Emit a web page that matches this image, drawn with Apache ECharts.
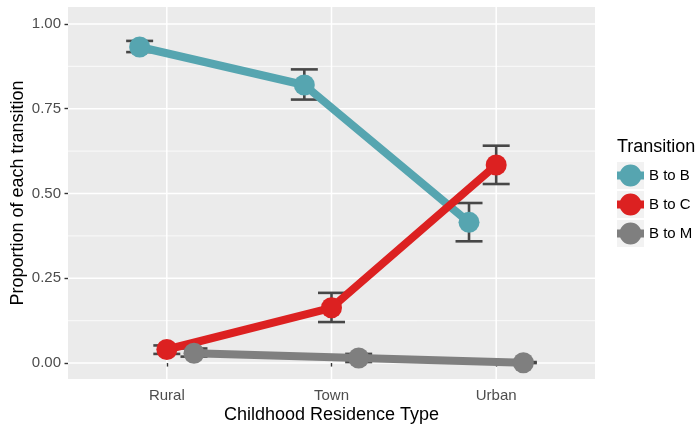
<!DOCTYPE html>
<html>
<head>
<meta charset="utf-8">
<script src="https://cdn.jsdelivr.net/npm/echarts@6/dist/echarts.min.js"></script>
<style>
  html, body { margin: 0; padding: 0; background: #fff; }
  #chart { width: 697px; height: 424px; }
</style>
</head>
<body>
<div id="chart"></div>
<script>
// Residence categories and the three transition groups
const categories = ['Rural', 'Town', 'Urban'];
const transitions = ['B to B', 'B to C', 'B to M'];

// Mean proportion with lower / upper error limits, per residence type
const bToBMean = [0.932, 0.820, 0.415];
const bToBLow  = [0.917, 0.777, 0.359];
const bToBHigh = [0.950, 0.866, 0.472];

const bToCMean = [0.040, 0.163, 0.584];
const bToCLow  = [0.027, 0.121, 0.528];
const bToCHigh = [0.052, 0.207, 0.641];

const bToMMean = [0.029, 0.015, 0.001];
const bToMLow  = [0.019, 0.003, 0.000];
const bToMHigh = [0.043, 0.027, 0.003];

// Tick positions
const yTicks = [0, 0.25, 0.5, 0.75, 1.0];
const yMinorTicks = [0.125, 0.375, 0.625, 0.875];
const xTicks = [1, 2, 3];

const colors = ['#56A5B0', '#DC2121', '#7F7F7F'];
const FONT = '"Liberation Sans", Arial, Helvetica, sans-serif';

const groups = [
  { name: transitions[0], mean: bToBMean, low: bToBLow, high: bToBHigh },
  { name: transitions[1], mean: bToCMean, low: bToCLow, high: bToCHigh },
  { name: transitions[2], mean: bToMMean, low: bToMLow, high: bToMHigh }
];

// position_dodge: groups spread around each category centre
const dodge = 0.33;
function xPos(catIdx, groupIdx) {
  return (catIdx + 1) + (groupIdx - 1) * dodge / 2;
}

const chart = echarts.init(document.getElementById('chart'), null, { renderer: 'canvas' });

// Panel grid lines (major + minor), drawn as a custom series
const gridData = [];
yMinorTicks.forEach(v => gridData.push([0, v, 0.75]));
yTicks.forEach(v => gridData.push([0, v, 1.5]));
xTicks.forEach(v => gridData.push([1, v, 1.5]));

const series = [{
  type: 'custom',
  name: 'panel-grid',
  silent: true,
  z: 0,
  data: gridData,
  encode: { x: 2, y: 1 },
  renderItem: function (params, api) {
    const cs = params.coordSys;
    const kind = api.value(0), v = api.value(1), w = api.value(2);
    let shape;
    if (kind === 0) {
      const y = api.coord([1, v])[1];
      shape = { x1: cs.x, y1: y, x2: cs.x + cs.width, y2: y };
    } else {
      const x = api.coord([v, 0])[0];
      shape = { x1: x, y1: cs.y, x2: x, y2: cs.y + cs.height };
    }
    return { type: 'line', shape: shape, style: { stroke: '#FFFFFF', lineWidth: w } };
  }
}];

// Error bars
groups.forEach((g, gi) => {
  series.push({
    type: 'custom',
    name: g.name + ' error',
    silent: true,
    z: 1,
    data: g.mean.map((m, ci) => [xPos(ci, gi), g.low[ci], g.high[ci]]),
    encode: { x: 0, y: [1, 2] },
    renderItem: function (params, api) {
      const x = api.value(0);
      const lo = api.coord([x, api.value(1)]);
      const hi = api.coord([x, api.value(2)]);
      const half = 13.5;
      const st = { stroke: '#474747', lineWidth: 2.6 };
      return {
        type: 'group',
        children: [
          { type: 'line', shape: { x1: lo[0], y1: lo[1], x2: hi[0], y2: hi[1] }, style: st },
          { type: 'line', shape: { x1: lo[0] - half, y1: lo[1], x2: lo[0] + half, y2: lo[1] }, style: st },
          { type: 'line', shape: { x1: hi[0] - half, y1: hi[1], x2: hi[0] + half, y2: hi[1] }, style: st }
        ]
      };
    }
  });
});

// Lines with points
groups.forEach((g, gi) => {
  series.push({
    type: 'line',
    name: g.name,
    z: 2 + gi,
    data: g.mean.map((m, ci) => [xPos(ci, gi), m]),
    symbol: 'circle',
    symbolSize: 21,
    showSymbol: true,
    lineStyle: { color: colors[gi], width: 8 },
    itemStyle: { color: colors[gi] },
    emphasis: { disabled: true },
    animation: false
  });
});

// Legend key: point with a line segment through it
const keyIcon = 'path://M0,7h27v8h-27Z M2.5,11a11,11 0 1,1 22,0a11,11 0 1,1 -22,0Z';
const legendTop = 164.5;
const legendLeft = 617;
const legendStep = 29;

const graphics = [{
  type: 'text',
  left: legendLeft,
  top: 138,
  style: { text: 'Transition', font: '18px ' + FONT, fill: '#000' }
}];
transitions.forEach((t, i) => {
  graphics.push({
    type: 'rect',
    left: legendLeft,
    top: legendTop - 2.5 + i * legendStep,
    shape: { width: 27, height: 27 },
    style: { fill: '#F2F2F2' },
    z: -10
  });
});

chart.setOption({
  animation: false,
  backgroundColor: '#FFFFFF',
  grid: {
    left: 68, right: 102, top: 7, bottom: 45,
    outerBoundsMode: 'none',
    containLabel: false,
    show: true, backgroundColor: '#EBEBEB', borderWidth: 0
  },
  xAxis: {
    type: 'value',
    min: 0.4, max: 3.6,
    axisLine: { show: false },
    splitLine: { show: false },
    axisTick: {
      show: true, customValues: xTicks, length: 3.5,
      lineStyle: { color: '#333333', width: 1.4 }
    },
    axisLabel: {
      customValues: xTicks,
      formatter: v => categories[Math.round(v) - 1],
      color: '#4D4D4D', fontSize: 15, fontFamily: FONT, margin: 9
    },
    name: 'Childhood Residence Type',
    nameLocation: 'middle',
    nameGap: 27,
    nameMoveOverlap: false,
    nameTextStyle: { color: '#000', fontSize: 18, fontFamily: FONT }
  },
  yAxis: {
    type: 'value',
    min: -0.047, max: 1.05,
    axisLine: { show: false },
    splitLine: { show: false },
    axisTick: {
      show: true, customValues: yTicks, length: 3.5,
      lineStyle: { color: '#333333', width: 1.4 }
    },
    axisLabel: {
      customValues: yTicks,
      formatter: v => v.toFixed(2),
      color: '#4D4D4D', fontSize: 15, fontFamily: FONT, margin: 7
    },
    name: 'Proportion of each transition',
    nameLocation: 'middle',
    nameRotate: 90,
    nameGap: 41,
    nameMoveOverlap: false,
    nameTextStyle: { color: '#000', fontSize: 18, fontFamily: FONT }
  },
  legend: {
    orient: 'vertical',
    left: legendLeft,
    top: legendTop,
    padding: 0,
    itemWidth: 27,
    itemHeight: 22,
    itemGap: 7,
    icon: keyIcon,
    selectedMode: false,
    z: 10,
    textStyle: { color: '#000', fontSize: 15, fontFamily: FONT, padding: [0, 0, 0, 0] },
    data: transitions.map((t, i) => ({ name: t, itemStyle: { color: colors[i] } }))
  },
  graphic: graphics,
  series: series
});
</script>
</body>
</html>
